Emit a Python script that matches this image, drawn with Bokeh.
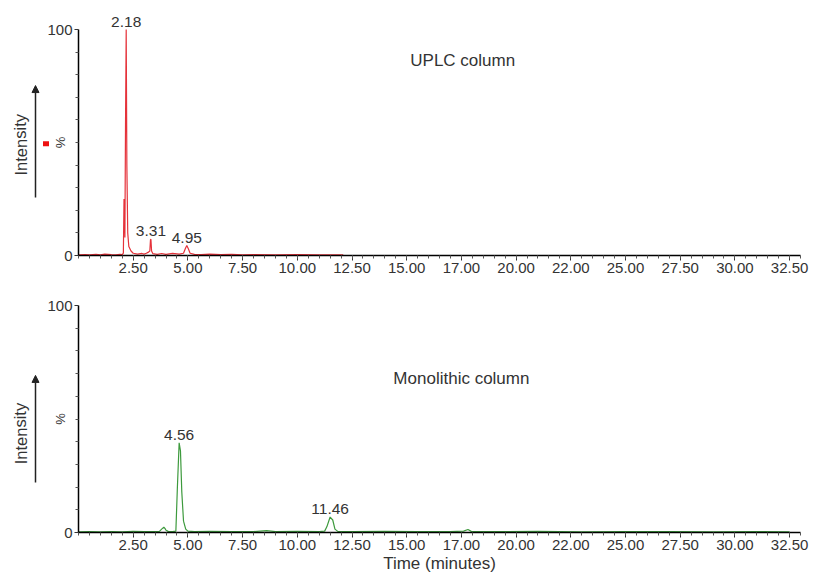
from bokeh.plotting import figure
from bokeh.layouts import column
from bokeh.models import (FixedTicker, Label, LabelSet, ColumnDataSource, Arrow,
                          NormalHead, BoxAnnotation, Range1d)
from bokeh.core.properties import value
from bokeh.embed import file_html
from bokeh.resources import INLINE

# ---------------- data ----------------
uplc_time = [0.0, 0.3, 0.5, 0.8, 1.0, 1.2, 1.5, 1.7, 1.9, 2.0, 2.05, 2.08, 2.10, 2.12,
             2.15, 2.18, 2.21, 2.25, 2.30, 2.40, 2.50, 2.70, 2.90, 3.00, 3.10, 3.20,
             3.26, 3.29, 3.31, 3.34, 3.40, 3.60, 3.80, 4.00, 4.30, 4.60, 4.80, 4.88,
             4.95, 5.02, 5.10, 5.30, 5.60, 6.00, 6.50, 7.00, 7.50, 8.00, 9.00, 10.0,
             11.0, 12.1]
uplc_int = [0.3, 0.4, 0.3, 0.5, 0.3, 0.6, 0.4, 0.3, 0.5, 0.4, 1.0, 25.0, 24.0, 8.0,
            60.0, 100.0, 40.0, 10.0, 4.0, 2.0, 1.0, 0.6, 0.9, 0.6, 1.0, 1.5,
            2.0, 7.0, 7.2, 2.0, 0.8, 0.5, 0.9, 0.5, 0.9, 0.6, 1.0, 3.0,
            4.4, 3.0, 1.0, 0.5, 0.4, 0.6, 0.4, 0.5, 0.3, 0.4, 0.3, 0.4,
            0.3, 0.3]

mono_time = [0.0, 0.5, 1.0, 1.5, 2.0, 2.5, 3.0, 3.5, 3.7, 3.8, 3.9, 3.95, 4.0, 4.1,
             4.3, 4.45, 4.52, 4.60, 4.66, 4.72, 4.80, 4.90, 5.0, 5.3, 6.0, 7.0,
             8.0, 8.6, 9.0, 10.0, 11.0, 11.25, 11.35, 11.50, 11.62, 11.72, 11.85,
             12.5, 14.0, 15.5, 17.0, 17.6, 17.8, 17.95, 19.0, 21.0, 23.0, 25.0,
             27.0, 29.0, 31.0, 32.5]
mono_int = [0.3, 0.4, 0.3, 0.4, 0.3, 0.5, 0.4, 0.4, 0.5, 1.5, 2.3, 1.8, 1.0, 0.5,
            0.4, 0.6, 20.0, 39.5, 36.0, 18.0, 5.0, 1.5, 0.6, 0.4, 0.5, 0.4,
            0.4, 0.8, 0.4, 0.5, 0.4, 0.6, 2.5, 6.8, 5.5, 1.5, 0.5,
            0.4, 0.5, 0.4, 0.4, 0.6, 1.3, 0.5, 0.4, 0.5, 0.3, 0.4,
            0.4, 0.3, 0.4, 0.3]

uplc_peak_t = [2.18, 3.31, 4.95]
uplc_peak_i = [100.0, 7.2, 4.4]
uplc_peak_lbl = ["2.18", "3.31", "4.95"]

mono_peak_t = [4.60, 11.50]
mono_peak_i = [39.5, 6.8]
mono_peak_lbl = ["4.56", "11.46"]

x_ticks = [2.5, 5.0, 7.5, 10.0, 12.5, 15.0, 17.5, 20.0, 22.5, 25.0, 27.5, 30.0, 32.5]
x_tick_labels = ["2.50", "5.00", "7.50", "10.00", "12.50", "15.00", "17.00",
                 "20.00", "22.00", "25.00", "27.50", "30.00", "32.50"]
x_minor = [i * 0.5 for i in range(0, 67)]
y_ticks = [0, 100]
y_minor = [10, 20, 30, 40, 50, 60, 70, 80, 90]

RED = "#e5323a"
GREEN = "#3d9a3d"
FONT = "Liberation Sans"
TXT = "#333333"

W = 816
PX_PER_MIN = 21.88
X0_PX = 78          # page x of time 0
X_START = -X0_PX / PX_PER_MIN
X_END = (W - X0_PX) / PX_PER_MIN


def xpx(px):
    """convert a page x pixel position into the time axis"""
    return (px - X0_PX) / PX_PER_MIN


def make_panel(height, top_px, bottom_px, t, y, color, pk_t, pk_i, pk_lbl,
               title, title_xy, arrow_y, intensity_y, marker=False, xlabel=None):
    # the frame covers the whole canvas; axes are pinned at 0 with bounds
    ppu = (bottom_px - top_px) / 100.0
    y_end = 100 + top_px / ppu
    y_start = -(height - bottom_px) / ppu
    p = figure(width=W, height=height, output_backend="svg", toolbar_location=None,
               x_range=Range1d(X_START, X_END), y_range=Range1d(y_start, y_end),
               min_border=0)
    p.outline_line_color = None
    p.grid.visible = False
    p.background_fill_color = "white"

    p.line(t, y, line_color=color, line_width=1.2)

    src = ColumnDataSource(dict(x=pk_t, y=pk_i, text=pk_lbl))
    p.add_layout(LabelSet(x="x", y="y", text="text", source=src, y_offset=3,
                          text_align="center", text_baseline="bottom",
                          text_font=value(FONT), text_font_size="15.5px", text_color=TXT))

    p.add_layout(Label(x=title_xy[0], y=title_xy[1], text=title, text_align="center",
                       text_baseline="middle", text_font=FONT, text_font_size="17px",
                       text_color=TXT))

    # axes
    xa = p.xaxis[0]
    xa.fixed_location = 0
    xa.bounds = (0, 33)
    xa.ticker = FixedTicker(ticks=x_ticks, minor_ticks=x_minor)
    xa.major_label_overrides = {k: v for k, v in zip(x_ticks, x_tick_labels)}
    xa.axis_line_color = "black"
    xa.axis_line_width = 1.3
    xa.major_tick_in = 0
    xa.major_tick_out = 5
    xa.minor_tick_in = 0
    xa.minor_tick_out = 3
    xa.major_tick_line_color = "#333333"
    xa.minor_tick_line_color = "#555555"
    xa.major_label_text_font = FONT
    xa.major_label_text_font_size = "15px"
    xa.major_label_text_color = TXT
    xa.major_label_standoff = 2
    if xlabel:
        xa.axis_label = xlabel
        xa.axis_label_text_font = FONT
        xa.axis_label_text_font_size = "17px"
        xa.axis_label_text_font_style = "normal"
        xa.axis_label_text_color = TXT
        xa.axis_label_standoff = 1

    ya = p.yaxis[0]
    ya.fixed_location = 0
    ya.bounds = (0, 100)
    ya.ticker = FixedTicker(ticks=y_ticks, minor_ticks=y_minor)
    ya.axis_line_color = "black"
    ya.axis_line_width = 1.5
    ya.major_tick_in = 0
    ya.major_tick_out = 4
    ya.minor_tick_in = 0
    ya.minor_tick_out = 3
    ya.major_tick_line_color = "#333333"
    ya.minor_tick_line_color = "#555555"
    ya.major_label_text_font = FONT
    ya.major_label_text_font_size = "15px"
    ya.major_label_text_color = TXT
    ya.major_label_standoff = 2

    # "%" label, Intensity + arrow
    p.add_layout(Label(x=xpx(60), y=50, text="%", angle=1.5708, text_align="center",
                       text_baseline="middle", text_font=FONT, text_font_size="13px",
                       text_color=TXT))
    p.add_layout(Label(x=xpx(20), y=intensity_y, text="Intensity", angle=1.5708,
                       text_align="center", text_baseline="middle", text_font=FONT,
                       text_font_size="16.5px", text_color=TXT))
    p.add_layout(Arrow(x_start=xpx(35), y_start=arrow_y[0], x_end=xpx(35),
                       y_end=arrow_y[1], line_color="#222222", line_width=1.5,
                       end=NormalHead(size=7, fill_color="#222222", line_color="#222222")))
    if marker:
        p.add_layout(BoxAnnotation(left=xpx(42.5), right=xpx(48.5), bottom=48.3,
                                   top=50.6, fill_color="#ee1111", fill_alpha=1.0,
                                   line_color=None))
    return p


p1 = make_panel(283, 29, 255, uplc_time, uplc_int, RED, uplc_peak_t, uplc_peak_i,
                uplc_peak_lbl, "UPLC column", (17.56, 86.3), (25.7, 75.2), 49.0,
                marker=True)
p2 = make_panel(291, 22, 249, mono_time, mono_int, GREEN, mono_peak_t, mono_peak_i,
                mono_peak_lbl, "Monolithic column", (17.5, 67.8), (22.0, 69.2), 43.6,
                xlabel="Time (minutes)")

layout = column(p1, p2, spacing=0)
open("out.html", "w").write(file_html(layout, INLINE))
